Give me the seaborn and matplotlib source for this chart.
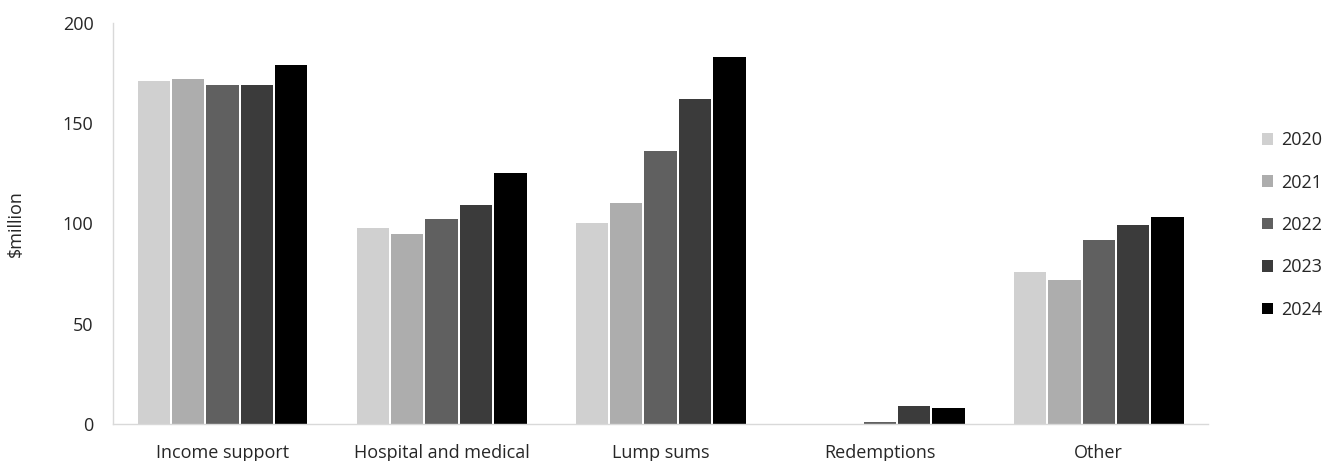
import matplotlib
matplotlib.use("Agg")
import matplotlib.pyplot as plt
import seaborn as sns
import pandas as pd

# Payments by category and year ($million)
categories = ["Income support", "Hospital and medical", "Lump sums", "Redemptions", "Other"]
years = ["2020", "2021", "2022", "2023", "2024"]
values_2020 = [171, 98, 100, 0, 76]
values_2021 = [172, 95, 110, 0, 72]
values_2022 = [169, 102, 136, 1, 92]
values_2023 = [169, 109, 162, 9, 99]
values_2024 = [179, 125, 183, 8, 103]
year_colors = ["#d0d0d0", "#adadad", "#606060", "#3b3b3b", "#000000"]

series = [values_2020, values_2021, values_2022, values_2023, values_2024]
rows = []
for year, vals in zip(years, series):
    for cat, v in zip(categories, vals):
        rows.append({"category": cat, "year": year, "value": v})
df = pd.DataFrame(rows)

sns.set_theme(style="white")
plt.rcParams["font.family"] = ["Open Sans", "DejaVu Sans"]
text_color = "#262626"
fs = 13

fig = plt.figure(figsize=(13.35, 4.61), dpi=100)
ax = fig.add_axes([0.0846, 0.0803, 0.8205, 0.8698])

sns.barplot(
    data=df, x="category", y="value", hue="year",
    order=categories, hue_order=years,
    palette=year_colors, width=0.785, gap=0.06,
    linewidth=0, errorbar=None, ax=ax,
)

ax.set_ylim(0, 200)
ax.set_yticks([0, 50, 100, 150, 200])
ax.set_xlabel("")
ax.set_ylabel("$million", fontsize=fs, color=text_color)
ax.yaxis.set_label_coords(-0.080, 0.5)

for side in ("top", "right"):
    ax.spines[side].set_visible(False)
for side in ("left", "bottom"):
    ax.spines[side].set_color("#d9d9d9")
    ax.spines[side].set_linewidth(1.0)

ax.tick_params(axis="both", length=0, labelsize=fs, colors=text_color)
ax.tick_params(axis="y", pad=14)
ax.tick_params(axis="x", pad=14.5)

handles, labels = ax.get_legend_handles_labels()
ax.get_legend().remove()
fig.legend(
    handles, labels,
    loc="center left", bbox_to_anchor=(1253 / 1335, 0.512),
    frameon=False, fontsize=fs,
    handlelength=0.6, handleheight=0.6, handletextpad=0.45,
    labelspacing=1.35, borderpad=0, labelcolor=text_color,
)

fig.savefig("out.png", dpi=100)
